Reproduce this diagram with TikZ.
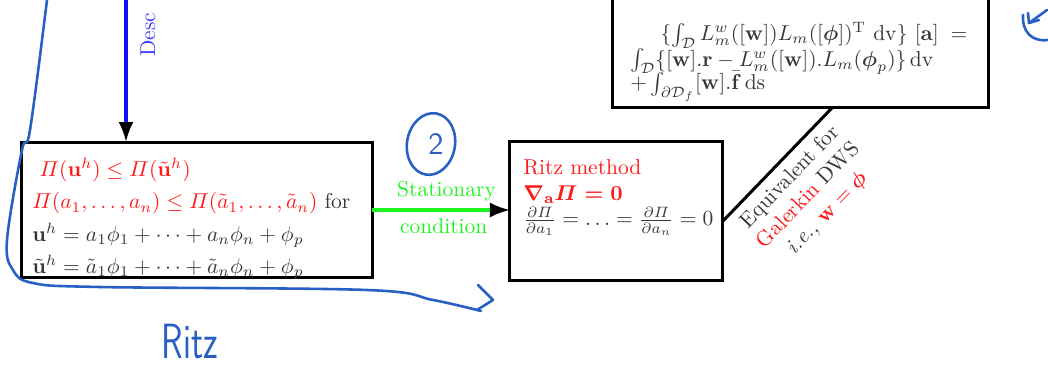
\documentclass[tikz,border=0pt]{standalone}
\usepackage{amsmath}
\usepackage{amssymb}
\usetikzlibrary{arrows.meta,calc}
\definecolor{rzred}{RGB}{255,25,25}
\definecolor{rzgreen}{RGB}{30,245,30}
\definecolor{rzblue}{RGB}{15,15,250}
\definecolor{rztxt}{RGB}{55,55,55}
\definecolor{handblue}{RGB}{40,95,195}
\tikzset{
  rbox/.style={draw=black, line width=1.4pt, inner sep=0pt, outer sep=0pt},
  rtxt/.style={text=rztxt, inner sep=0pt, align=left, anchor=north west},
  rarrow/.style={line width=1.4pt, -{Latex[color=black]}},
  rhand/.style={draw=handblue, line width=1.2pt, line cap=round, line join=round}
}

\begin{document}
\begin{tikzpicture}[x=0.465pt, y=0.465pt]
    \useasboundingbox (0,0) rectangle (1048,367);
    \clip (0,0) rectangle (1048,367);
    % boxes
    \node[rbox, minimum width=162.8pt, minimum height=63.2pt] (lhs) at (197,157) {};
    \node[rbox, minimum width=98.6pt, minimum height=64.2pt] (ritz) at (616,156) {};
    \node[rbox, minimum width=174.4pt, minimum height=63.2pt] (eqs) at (800.5,327) {};
    % minimum principle
    \node[rtxt, font=\fontsize{10}{15}\selectfont] (lhstxt) at ($(lhs.north west)+(10,-16)$) {\ \textcolor{rzred}{$\varPi(\mathbf{u}^h)\le\varPi(\tilde{\mathbf{u}}^h)$}\\
      \textcolor{rzred}{$\varPi(a_1,\dots,a_n)\le\varPi(\tilde a_1,\dots,\tilde a_n)$} for\\
      $\mathbf{u}^h=a_1\phi_1+\cdots+a_n\phi_n+\phi_p$\\
      $\tilde{\mathbf{u}}^h=\tilde a_1\phi_1+\cdots+\tilde a_n\phi_n+\phi_p$};
    % ritz method
    \node[rtxt] (ritztxt) at ($(ritz.north west)+(13,-17)$) {\textcolor{rzred}{Ritz method}\\
      \textcolor{rzred}{$\boldsymbol{\nabla_{\mathbf{a}}\varPi=\mathbf{0}}$}\\
      $\frac{\partial\varPi}{\partial a_1}=\ldots=\frac{\partial\varPi}{\partial a_n}=0$};
    % galerkin system
    \node[rtxt, anchor=south west] (eqstxt) at ($(eqs.south west)+(17,6)$) {\hspace*{14pt}$\{\int_{\mathcal{D}} L_m^w([\mathbf{w}])L_m([\boldsymbol{\phi}])^{\mathrm{T}}\ \mathrm{dv}\}\ [\mathbf{a}]\;=$\\
      $\int_{\mathcal{D}}\{[\mathbf{w}].\mathbf{r}-L_m^w([\mathbf{w}]).L_m(\boldsymbol{\phi}_p)\}\,\mathrm{dv}$\\[-2.3pt]
      $+\int_{\partial\mathcal{D}_f}[\mathbf{w}].\bar{\mathbf{f}}\,\mathrm{ds}$};
    % arrows
    \coordinate (dtop) at (126,380);
    \draw[rarrow, draw=rzblue] (dtop) -- (dtop |- lhs.north);
    \node[text=rzblue!80, rotate=90, anchor=base west, inner sep=0pt] (desc) at (155,310) {Desc};
    \draw[rarrow, draw=rzgreen] (lhs.east) -- node[pos=0.54, above, text=rzgreen] (stat) {Stationary} node[pos=0.52, below, text=rzgreen] (cond) {condition} (ritz.west |- lhs.east);
    \draw[line width=1.4pt] ($(ritz.east)+(0,-11)$) -- node[sloped, below, align=center, text=rztxt] (galk) {Equivalent for\\ \textcolor{rzred}{Galerkin} DWS\\ \textit{i.e.,} \textcolor{rzred}{$\mathbf{w}=\boldsymbol{\phi}$}} ($(eqs.south west)+(219,0)$);
    % hand notes
    \draw[rhand] plot[smooth, tension=0.6] coordinates {(47,367) (30,237) (22,217) (7,127) (13,97) (33,84) (100,80) (367,77) (433,67) (481,56)};
    \draw[rhand] (478,82) -- (493,67) -- (477,57);
    \draw[rhand, rotate around={-10:(431,223)}] (431,223) ellipse (24 and 31);
    \node[text=handblue, font=\sffamily\Large] (two) at (436,223) {2};
    \draw[rhand] (1023,352) .. controls (1022,335) and (1032,325) .. (1048,327);
    \draw[rhand] (1029,344) -- (1047,357);
    \draw[rhand] (1028,354) -- (1029,344) -- (1039,347);
    \node[text=handblue, font=\sffamily\fontsize{23}{23}\selectfont, inner sep=0pt] (ritzhand) at (190,25) {\scalebox{0.72}[1]{Ritz}};
\end{tikzpicture}
\end{document}
